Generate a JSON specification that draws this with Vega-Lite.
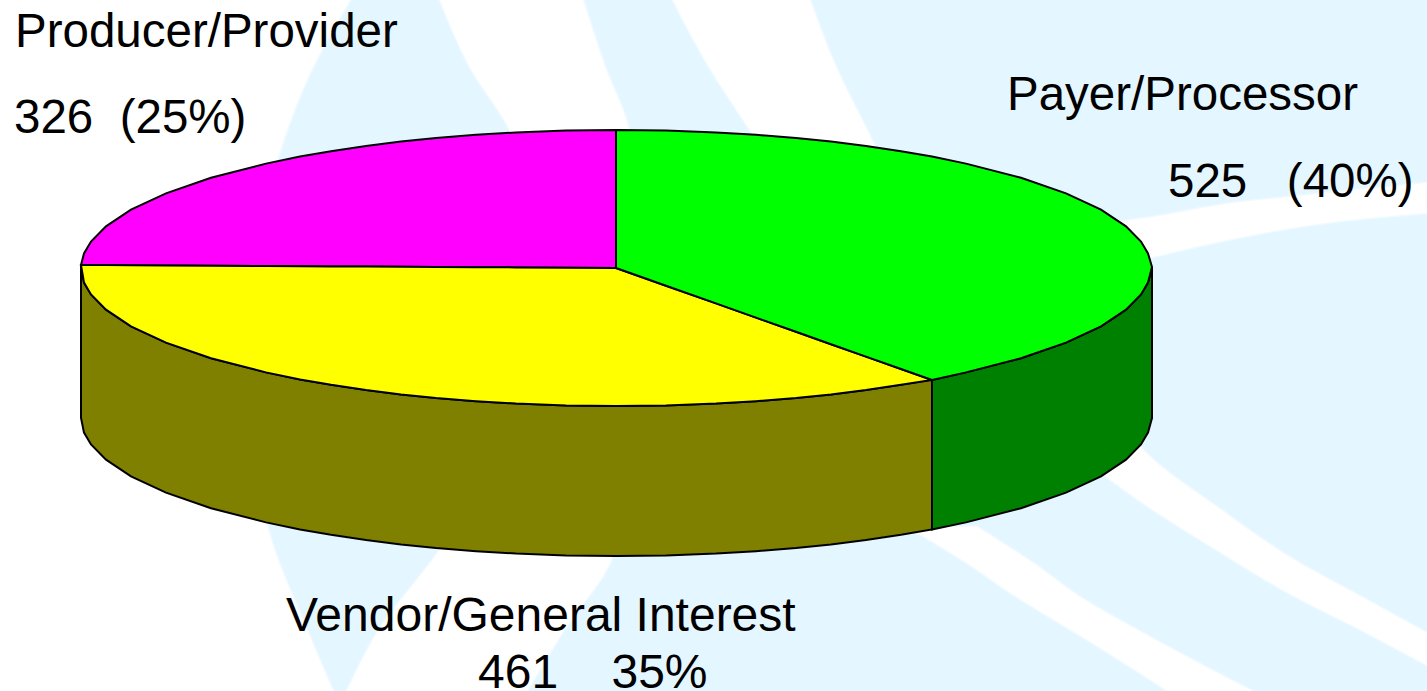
{
"$schema":"https://vega.github.io/schema/vega-lite/v6.json",
"width":1427,"height":691,"padding":0,"autosize":{"type":"none"},
"background":"#E4F6FF",
"config":{"view":{"stroke":null}},
"datasets":{
"swoosh":[
{"band":"a","y":0,"x":0,"x2":350},{"band":"a","y":73,"x":0,"x2":310},{"band":"a","y":157,"x":0,"x2":278},{"band":"a","y":340,"x":0,"x2":245},{"band":"a","y":525,"x":0,"x2":267},{"band":"a","y":630,"x":0,"x2":307},{"band":"a","y":691,"x":0,"x2":333},
{"band":"b","y":0,"x":440,"x2":583},{"band":"b","y":67,"x":470,"x2":605},{"band":"b","y":130,"x":510,"x2":629},{"band":"b","y":330,"x":560,"x2":650},{"band":"b","y":555,"x":436,"x2":613},{"band":"b","y":633,"x":377,"x2":562},{"band":"b","y":691,"x":347,"x2":527},
{"band":"c","y":0,"x":673,"x2":810},{"band":"c","y":65,"x":708,"x2":835},{"band":"c","y":130,"x":750,"x2":867},{"band":"c","y":300,"x":860,"x2":950},
{"band":"d","y":527,"x":908,"x2":977},{"band":"d","y":563,"x":967,"x2":1033},{"band":"d","y":597,"x":1017,"x2":1080},{"band":"d","y":637,"x":1083,"x2":1150},{"band":"d","y":691,"x":1168,"x2":1252}
],
"streak":[
{"band":"e","x":1100,"y":400,"y2":472},{"band":"e","x":1143,"y":450,"y2":503},{"band":"e","x":1217,"y":507,"y2":550},{"band":"e","x":1283,"y":553,"y2":590},{"band":"e","x":1367,"y":600,"y2":633},{"band":"e","x":1427,"y":633,"y2":665},
{"band":"f","x":1110,"y":223,"y2":268},{"band":"f","x":1153,"y":217,"y2":257},{"band":"f","x":1227,"y":204,"y2":240},{"band":"f","x":1310,"y":195,"y2":225},{"band":"f","x":1427,"y":183,"y2":213}
],
"pie":[
{"part":"Vendor side","x":81,"y":265,"y2":418},{"part":"Vendor side","x":84,"y":282.6,"y2":432.6},{"part":"Vendor side","x":91,"y":294.5,"y2":444.5},{"part":"Vendor side","x":106,"y":309.7,"y2":459.7},{"part":"Vendor side","x":131,"y":326.3,"y2":476.3},{"part":"Vendor side","x":166,"y":342.6,"y2":492.6},{"part":"Vendor side","x":211,"y":358.2,"y2":508.2},{"part":"Vendor side","x":266,"y":372.4,"y2":522.4},{"part":"Vendor side","x":300,"y":379.4,"y2":529.4},{"part":"Vendor side","x":331,"y":384.8,"y2":534.8},{"part":"Vendor side","x":366,"y":390,"y2":540},{"part":"Vendor side","x":401,"y":394.4,"y2":544.4},{"part":"Vendor side","x":436,"y":398,"y2":548},{"part":"Vendor side","x":476,"y":401.2,"y2":551.2},{"part":"Vendor side","x":516,"y":403.6,"y2":553.6},{"part":"Vendor side","x":566,"y":405.4,"y2":555.4},{"part":"Vendor side","x":616,"y":406,"y2":556},{"part":"Vendor side","x":666,"y":405.4,"y2":555.4},{"part":"Vendor side","x":716,"y":403.6,"y2":553.6},{"part":"Vendor side","x":756,"y":401.2,"y2":551.2},{"part":"Vendor side","x":796,"y":398,"y2":548},{"part":"Vendor side","x":831,"y":394.4,"y2":544.4},{"part":"Vendor side","x":866,"y":390,"y2":540},{"part":"Vendor side","x":901,"y":384.8,"y2":534.8},{"part":"Vendor side","x":932,"y":379.4,"y2":529.4},
{"part":"Payer side","x":932,"y":380,"y2":529.4},{"part":"Payer side","x":966,"y":372.4,"y2":522.4},{"part":"Payer side","x":1021,"y":358.2,"y2":508.2},{"part":"Payer side","x":1066,"y":342.6,"y2":492.6},{"part":"Payer side","x":1101,"y":326.3,"y2":476.3},{"part":"Payer side","x":1126,"y":309.7,"y2":459.7},{"part":"Payer side","x":1141,"y":294.5,"y2":444.5},{"part":"Payer side","x":1148,"y":282.6,"y2":432.6},{"part":"Payer side","x":1152,"y":267,"y2":418},
{"part":"Producer/Provider","x":81,"y":265,"y2":265},{"part":"Producer/Provider","x":84,"y":253.4,"y2":265},{"part":"Producer/Provider","x":91,"y":241.5,"y2":265.1},{"part":"Producer/Provider","x":106,"y":226.3,"y2":265.1},{"part":"Producer/Provider","x":131,"y":209.7,"y2":265.3},{"part":"Producer/Provider","x":166,"y":193.4,"y2":265.5},{"part":"Producer/Provider","x":211,"y":177.8,"y2":265.7},{"part":"Producer/Provider","x":266,"y":163.6,"y2":266},{"part":"Producer/Provider","x":300,"y":156.6,"y2":266.2},{"part":"Producer/Provider","x":331,"y":151.2,"y2":266.4},{"part":"Producer/Provider","x":366,"y":146,"y2":266.6},{"part":"Producer/Provider","x":401,"y":141.6,"y2":266.8},{"part":"Producer/Provider","x":436,"y":138,"y2":267},{"part":"Producer/Provider","x":476,"y":134.8,"y2":267.2},{"part":"Producer/Provider","x":516,"y":132.4,"y2":267.4},{"part":"Producer/Provider","x":566,"y":130.6,"y2":267.7},{"part":"Producer/Provider","x":616,"y":130,"y2":268},
{"part":"Vendor/General Interest","x":81,"y":265,"y2":265},{"part":"Vendor/General Interest","x":84,"y":265,"y2":282.6},{"part":"Vendor/General Interest","x":91,"y":265.1,"y2":294.5},{"part":"Vendor/General Interest","x":106,"y":265.1,"y2":309.7},{"part":"Vendor/General Interest","x":131,"y":265.3,"y2":326.3},{"part":"Vendor/General Interest","x":166,"y":265.5,"y2":342.6},{"part":"Vendor/General Interest","x":211,"y":265.7,"y2":358.2},{"part":"Vendor/General Interest","x":266,"y":266,"y2":372.4},{"part":"Vendor/General Interest","x":300,"y":266.2,"y2":379.4},{"part":"Vendor/General Interest","x":331,"y":266.4,"y2":384.8},{"part":"Vendor/General Interest","x":366,"y":266.6,"y2":390},{"part":"Vendor/General Interest","x":401,"y":266.8,"y2":394.4},{"part":"Vendor/General Interest","x":436,"y":267,"y2":398},{"part":"Vendor/General Interest","x":476,"y":267.2,"y2":401.2},{"part":"Vendor/General Interest","x":516,"y":267.4,"y2":403.6},{"part":"Vendor/General Interest","x":566,"y":267.7,"y2":405.4},{"part":"Vendor/General Interest","x":616,"y":268,"y2":406},{"part":"Vendor/General Interest","x":666,"y":285.7,"y2":405.4},{"part":"Vendor/General Interest","x":716,"y":303.4,"y2":403.6},{"part":"Vendor/General Interest","x":756,"y":317.6,"y2":401.2},{"part":"Vendor/General Interest","x":796,"y":331.8,"y2":398},{"part":"Vendor/General Interest","x":831,"y":344.2,"y2":394.4},{"part":"Vendor/General Interest","x":866,"y":356.6,"y2":390},{"part":"Vendor/General Interest","x":901,"y":369,"y2":384.8},{"part":"Vendor/General Interest","x":932,"y":380,"y2":380},
{"part":"Payer/Processor","x":616,"y":130,"y2":268},{"part":"Payer/Processor","x":666,"y":130.6,"y2":285.7},{"part":"Payer/Processor","x":716,"y":132.4,"y2":303.4},{"part":"Payer/Processor","x":756,"y":134.8,"y2":317.6},{"part":"Payer/Processor","x":796,"y":138,"y2":331.8},{"part":"Payer/Processor","x":831,"y":141.6,"y2":344.2},{"part":"Payer/Processor","x":866,"y":146,"y2":356.6},{"part":"Payer/Processor","x":901,"y":151.2,"y2":369},{"part":"Payer/Processor","x":932,"y":156.6,"y2":380},{"part":"Payer/Processor","x":966,"y":163.6,"y2":372.4},{"part":"Payer/Processor","x":1021,"y":177.8,"y2":358.2},{"part":"Payer/Processor","x":1066,"y":193.4,"y2":342.6},{"part":"Payer/Processor","x":1101,"y":209.7,"y2":326.3},{"part":"Payer/Processor","x":1126,"y":226.3,"y2":309.7},{"part":"Payer/Processor","x":1141,"y":241.5,"y2":294.5},{"part":"Payer/Processor","x":1148,"y":253.4,"y2":282.6},{"part":"Payer/Processor","x":1152,"y":267,"y2":267}
],
"labels":[
{"x":15,"y":47,"label":"Producer/Provider"},
{"x":14,"y":133,"label":"326\u00a0\u00a0(25%)"},
{"x":1007,"y":110,"label":"Payer/Processor"},
{"x":1168,"y":197,"label":"525\u00a0\u00a0\u00a0(40%)"}
],
"labels2":[
{"x":286,"y":631,"label":"Vendor/General Interest"},
{"x":478,"y":688,"label":"461\u00a0\u00a0\u00a0\u00a035%"}
]
},
"encoding":{
"x":{"field":"x","type":"quantitative","axis":null,"scale":{"domain":[0,1427],"nice":false,"zero":false}},
"y":{"field":"y","type":"quantitative","axis":null,"stack":null,"scale":{"domain":[691,0],"nice":false,"zero":false}}
},
"layer":[
{"data":{"name":"swoosh"},"mark":{"type":"area","orient":"horizontal","interpolate":"monotone","color":"#FFFFFF","stroke":"#FFFFFF","strokeWidth":3,"strokeOpacity":0.45},
 "encoding":{"x2":{"field":"x2"},"detail":{"field":"band"}}},
{"data":{"name":"streak"},"mark":{"type":"area","orient":"vertical","interpolate":"monotone","color":"#FFFFFF","stroke":"#FFFFFF","strokeWidth":3,"strokeOpacity":0.45},
 "encoding":{"y2":{"field":"y2"},"detail":{"field":"band"}}},
{"data":{"name":"pie"},"mark":{"type":"area","orient":"vertical","stroke":"#000000","strokeWidth":2,"opacity":1},
 "encoding":{"y2":{"field":"y2"},"color":{"field":"part","type":"nominal","legend":null,
  "scale":{"domain":["Vendor side","Payer side","Producer/Provider","Vendor/General Interest","Payer/Processor"],"range":["#808000","#008000","#FF00FF","#FFFF00","#00FF00"]}}}},
{"data":{"name":"labels"},"mark":{"type":"text","align":"left","baseline":"alphabetic","font":"Liberation Sans","fontSize":47.5,"color":"#000000"},
 "encoding":{"text":{"field":"label"}}},
{"data":{"name":"labels2"},"mark":{"type":"text","align":"left","baseline":"alphabetic","font":"Liberation Sans","fontSize":48,"color":"#000000"},
 "encoding":{"text":{"field":"label"}}}
]
}
